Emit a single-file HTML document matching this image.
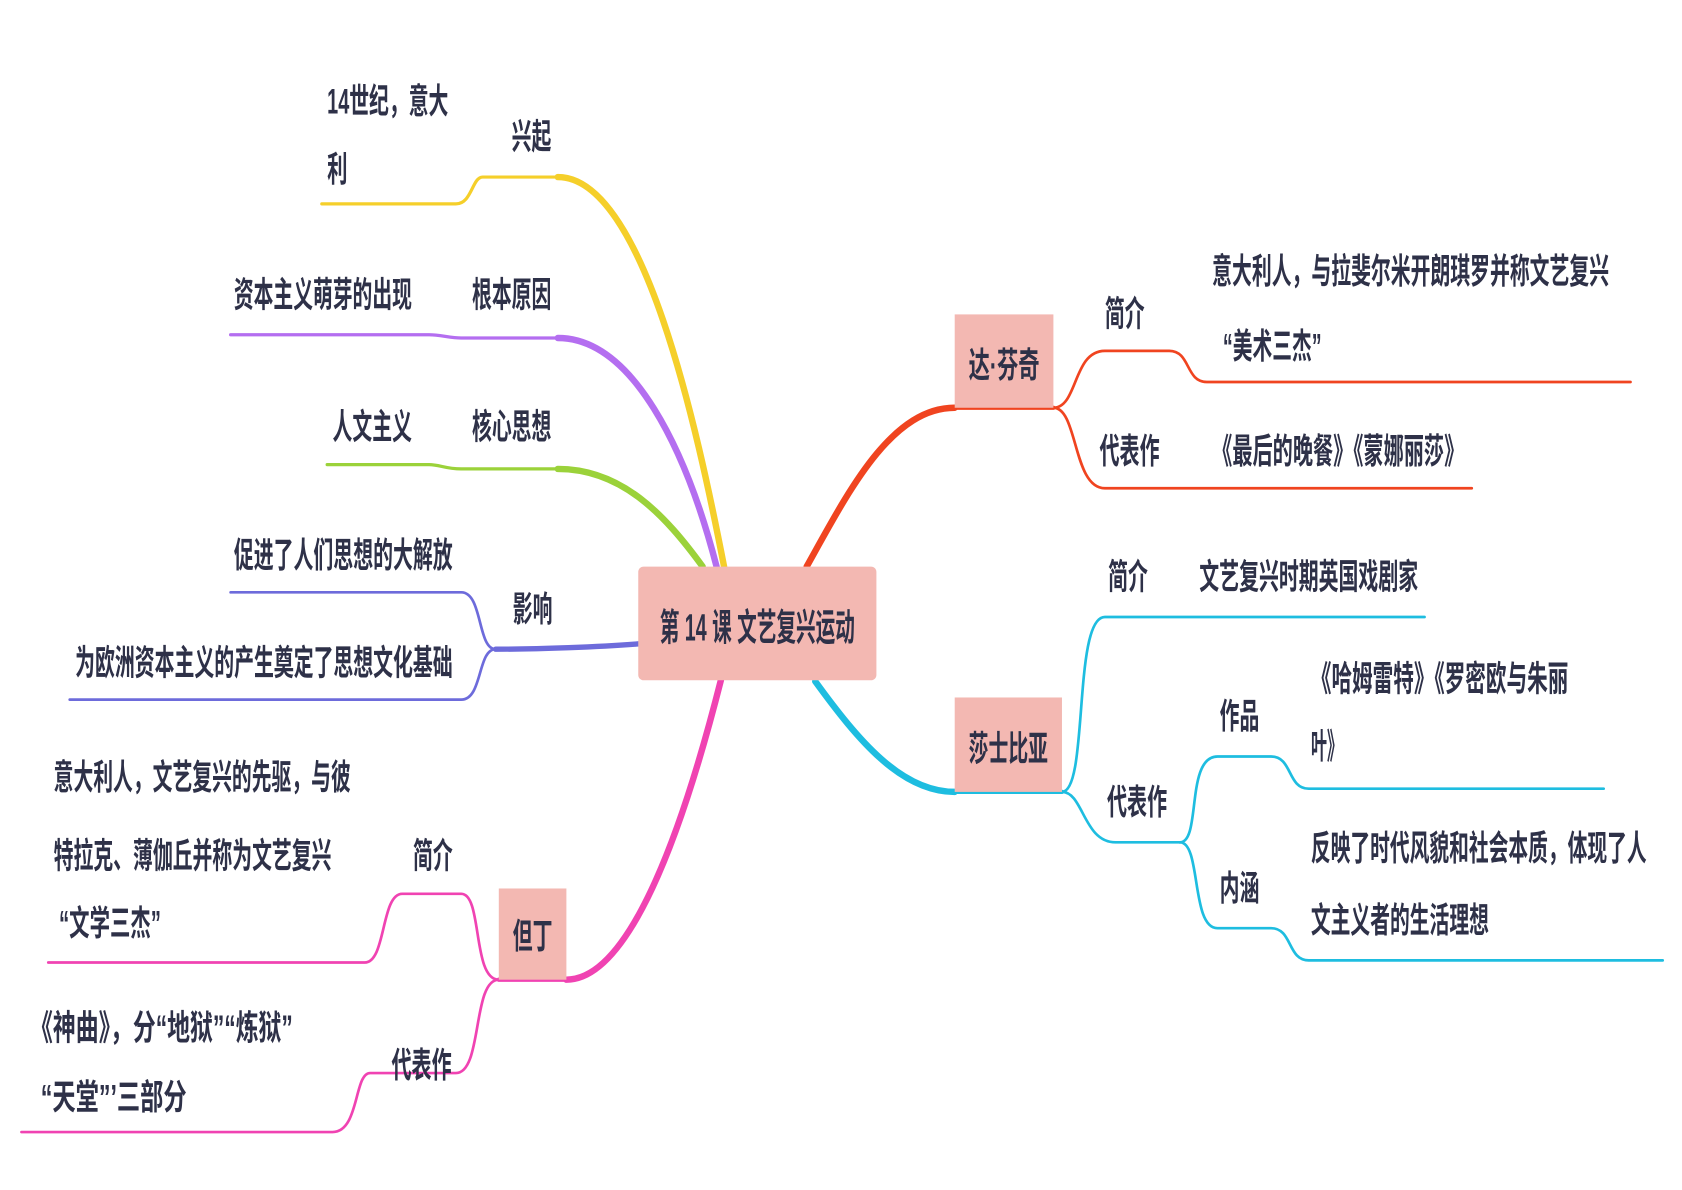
<!DOCTYPE html>
<html><head><meta charset="utf-8"><style>
html,body{margin:0;padding:0;background:#fff;}
svg{display:block;}
text{font-family:"Liberation Sans","Noto Sans CJK SC",sans-serif;font-size:33px;font-weight:bold;fill:#2e3148;}
</style></head><body>
<svg width="1682" height="1190" viewBox="0 0 1568 1109" preserveAspectRatio="none" xmlns="http://www.w3.org/2000/svg">
<g fill="none" stroke-linecap="round">
<path d="M675,528 C650,400 600,165 520,165" stroke="#f5cf2a" stroke-width="6"/>
<path d="M530,165 L450,165 C440,165 440,190 425,190 L300,190" stroke="#f5cf2a" stroke-width="3"/>
<path d="M668,528 C640,420 590,315 520,315" stroke="#b46ef0" stroke-width="6"/>
<path d="M525,315 L430,315 C420,315 410,312 400,312 L215,312" stroke="#b46ef0" stroke-width="3"/>
<path d="M655,528 C620,480 580,437 520,437" stroke="#9bd23a" stroke-width="6"/>
<path d="M525,437 L430,437 C415,437 410,433 400,433 L305,433" stroke="#9bd23a" stroke-width="3"/>
<path d="M596,600 C560,603 500,605 462,605" stroke="#6d6bdb" stroke-width="5"/>
<path d="M462,605 C445,605 450,552 430,552 L215,552" stroke="#6d6bdb" stroke-width="2.5"/>
<path d="M462,605 C445,605 450,652 430,652 L65,652" stroke="#6d6bdb" stroke-width="2.5"/>
<path d="M672,634 C640,760 590,913 528,913" stroke="#f043b2" stroke-width="6"/>
<path d="M528,913 L465,913" stroke="#f043b2" stroke-width="4"/>
<path d="M465,913 C440,913 450,833 430,833 L375,833 C355,833 360,897 340,897 L45,897" stroke="#f043b2" stroke-width="2.5"/>
<path d="M465,913 C440,913 450,1000 425,1000 L345,1000 C330,1000 335,1055 310,1055 L20,1055" stroke="#f043b2" stroke-width="2.5"/>
<path d="M752,528 C790,460 830,380 890,380" stroke="#f04420" stroke-width="6"/>
<path d="M890,380 L982,380" stroke="#f04420" stroke-width="4"/>
<path d="M982,380 C1005,380 1000,327 1030,327 L1090,327 C1110,327 1105,356 1125,356 L1520,356" stroke="#f04420" stroke-width="2.5"/>
<path d="M982,380 C1005,380 1000,455 1030,455 L1372,455" stroke="#f04420" stroke-width="2.5"/>
<path d="M760,635 C800,690 840,738 890,738" stroke="#1ebde0" stroke-width="6"/>
<path d="M890,738 L990,738" stroke="#1ebde0" stroke-width="4"/>
<path d="M990,738 C1015,738 1000,575 1030,575 L1328,575" stroke="#1ebde0" stroke-width="2.5"/>
<path d="M990,738 C1010,738 1010,785 1040,785 L1100,785" stroke="#1ebde0" stroke-width="2.5"/>
<path d="M1100,785 C1120,785 1105,705 1135,705 L1185,705 C1205,705 1200,735 1220,735 L1495,735" stroke="#1ebde0" stroke-width="2.5"/>
<path d="M1100,785 C1120,785 1110,865 1135,865 L1185,865 C1205,865 1200,895 1220,895 L1550,895" stroke="#1ebde0" stroke-width="2.5"/>
</g>
<rect x="595" y="528" width="222" height="106" rx="5" fill="#f3b8b2"/>
<rect x="890" y="293" width="92" height="87" fill="#f3b8b2"/>
<rect x="890" y="650" width="100" height="88" fill="#f3b8b2"/>
<rect x="465" y="828" width="63" height="85" fill="#f3b8b2"/>
<text x="615" y="597" textLength="182" lengthAdjust="spacingAndGlyphs" style="font-size:35px">第 14 课 文艺复兴运动</text>
<text x="903" y="352" textLength="66" lengthAdjust="spacingAndGlyphs">达·芬奇</text>
<text x="903" y="709" textLength="74" lengthAdjust="spacingAndGlyphs">莎士比亚</text>
<text x="478" y="884" textLength="37" lengthAdjust="spacingAndGlyphs">但丁</text>
<text x="477" y="139" textLength="37" lengthAdjust="spacingAndGlyphs">兴起</text>
<text x="305" y="106" textLength="113" lengthAdjust="spacingAndGlyphs">14世纪，意大</text>
<text x="305" y="169" textLength="19" lengthAdjust="spacingAndGlyphs">利</text>
<text x="440" y="286" textLength="74" lengthAdjust="spacingAndGlyphs">根本原因</text>
<text x="218" y="286" textLength="166" lengthAdjust="spacingAndGlyphs">资本主义萌芽的出现</text>
<text x="440" y="409" textLength="74" lengthAdjust="spacingAndGlyphs">核心思想</text>
<text x="310" y="409" textLength="74" lengthAdjust="spacingAndGlyphs">人文主义</text>
<text x="478" y="579" textLength="37" lengthAdjust="spacingAndGlyphs">影响</text>
<text x="218" y="529" textLength="204" lengthAdjust="spacingAndGlyphs">促进了人们思想的大解放</text>
<text x="70" y="629" textLength="352" lengthAdjust="spacingAndGlyphs">为欧洲资本主义的产生奠定了思想文化基础</text>
<text x="385" y="809" textLength="37" lengthAdjust="spacingAndGlyphs">简介</text>
<text x="50" y="736" textLength="277" lengthAdjust="spacingAndGlyphs">意大利人，文艺复兴的先驱，与彼</text>
<text x="50" y="809" textLength="259" lengthAdjust="spacingAndGlyphs">特拉克、薄伽丘并称为文艺复兴</text>
<text x="55" y="872" textLength="95" lengthAdjust="spacingAndGlyphs">“文学三杰”</text>
<text x="365" y="1004" textLength="56" lengthAdjust="spacingAndGlyphs">代表作</text>
<text x="28" y="969" textLength="245" lengthAdjust="spacingAndGlyphs">《神曲》，分“地狱”“炼狱”</text>
<text x="38" y="1034" textLength="136" lengthAdjust="spacingAndGlyphs">“天堂”’三部分</text>
<text x="1030" y="304" textLength="37" lengthAdjust="spacingAndGlyphs">简介</text>
<text x="1130" y="264" textLength="370" lengthAdjust="spacingAndGlyphs">意大利人，与拉斐尔米开朗琪罗并称文艺复兴</text>
<text x="1140" y="334" textLength="92" lengthAdjust="spacingAndGlyphs">“美术三杰”</text>
<text x="1025" y="432" textLength="56" lengthAdjust="spacingAndGlyphs">代表作</text>
<text x="1130" y="432" textLength="235" lengthAdjust="spacingAndGlyphs">《最后的晚餐》《蒙娜丽莎》</text>
<text x="1033" y="549" textLength="37" lengthAdjust="spacingAndGlyphs">简介</text>
<text x="1118" y="549" textLength="204" lengthAdjust="spacingAndGlyphs">文艺复兴时期英国戏剧家</text>
<text x="1032" y="759" textLength="56" lengthAdjust="spacingAndGlyphs">代表作</text>
<text x="1137" y="679" textLength="37" lengthAdjust="spacingAndGlyphs">作品</text>
<text x="1222" y="644" textLength="240" lengthAdjust="spacingAndGlyphs">《哈姆雷特》《罗密欧与朱丽</text>
<text x="1222" y="707" textLength="30" lengthAdjust="spacingAndGlyphs">叶》</text>
<text x="1137" y="839" textLength="37" lengthAdjust="spacingAndGlyphs">内涵</text>
<text x="1222" y="802" textLength="313" lengthAdjust="spacingAndGlyphs">反映了时代风貌和社会本质，体现了人</text>
<text x="1222" y="869" textLength="166" lengthAdjust="spacingAndGlyphs">文主义者的生活理想</text>
</svg>
</body></html>
